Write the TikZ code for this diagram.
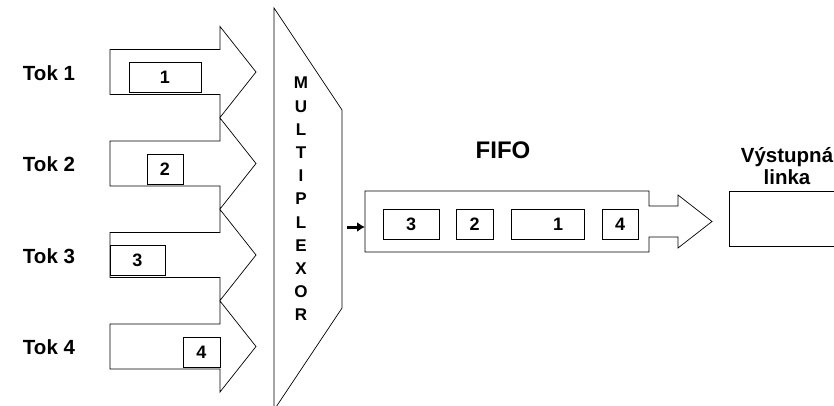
\documentclass[tikz,border=0pt]{standalone}
\usepackage{fontspec}
\setmainfont{Liberation Sans}
\usepackage{tikz}
\usetikzlibrary{arrows.meta}
\tikzstyle{outline}=[
	draw=black,
	line width=0.7pt
]
\tikzstyle{packet}=[
	outline,
	minimum height=30pt,
	inner sep=0pt,
	font=\fontsize{18}{18}\selectfont\bfseries
]
\tikzstyle{tlabel}=[
	font=\fontsize{20.5}{22}\selectfont\bfseries
]
\tikzstyle{feed}=[
	-{Latex[length=8pt,width=10pt]},
	line width=3pt
]

\begin{document}
\begin{tikzpicture}[x=1pt,y=-1pt]
\useasboundingbox (0,0) rectangle (834,406);
\clip (0,0) rectangle (834,406);

% input streams
\foreach \i/\c in {1/72,2/163.5,3/255,4/346.5}{
  \draw[outline] (110,\c-22.5) -- (220,\c-22.5) -- (220,\c-45.5) -- (256,\c)
    -- (220,\c+45.5) -- (220,\c+22.5) -- (110,\c+22.5) -- cycle;
  \node[tlabel] (tok\i) at (49,\c+1) {Tok \i};
}
\node[packet, minimum width=72pt] (p1) at (165,77.5) {1};
\node[packet, minimum width=36pt] (p2) at (165,169.5) {2};
\node[packet, minimum width=55pt] (p3) at (137.5,260.5) {3};
\node[packet, minimum width=37pt] (p4) at (201.5,352) {4};

% multiplexor
\draw[outline] (274,8) -- (342,110) -- (342,308) -- (274,410) -- cycle;
\node[font=\fontsize{17}{23.2}\selectfont\bfseries, align=center] (mux) at (301,199)
  {M\\U\\L\\T\\I\\P\\L\\E\\X\\O\\R};

% queue
\node[font=\fontsize{24}{24}\selectfont\bfseries] (fifo) at (503,150) {FIFO};
\draw[outline] (365,191) -- (649,191) -- (649,206) -- (678,206) -- (678,195)
  -- (712,221.5) -- (678,248) -- (678,237) -- (649,237) -- (649,252)
  -- (365,252) -- cycle;
\node[packet, minimum width=56pt] (q3) at (411,224) {3};
\node[packet, minimum width=37pt] (q2) at (474.5,224) {2};
\node[packet, minimum width=73pt] (q1) at (547.5,224) {\hspace*{21pt}1};
\node[packet, minimum width=36pt] (q4) at (620,224) {4};

\coordinate (mux out) at (347,227);
\coordinate (fifo in) at (365,227);
\draw[feed] (mux out) -- (fifo in);

% output line
\node[tlabel, align=center] (outlabel) at (787,166) {Výstupná\\linka};
\node[outline, minimum width=130pt, minimum height=55pt, anchor=west] (outline) at (729,218.5) {};

\end{tikzpicture}
\end{document}
